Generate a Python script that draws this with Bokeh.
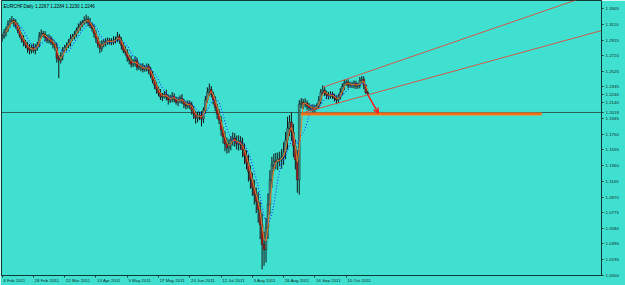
import numpy as np
import pandas as pd
from bokeh.plotting import figure
from bokeh.models import (Range1d, FixedTicker, NumeralTickFormatter, Label, Arrow,
                          OpenHead, ColumnDataSource)
from bokeh.embed import file_html
from bokeh.resources import INLINE

title_text = "EURCHF,Daily  1.2267 1.2284 1.2230 1.2246"

close = [
    1.2960, 1.3009, 1.3046, 1.3108, 1.3145, 1.3157, 1.3133, 1.3096, 1.3034, 1.2972,
    1.2923, 1.2886, 1.2849, 1.2812, 1.2787, 1.2824, 1.2787, 1.2824, 1.2861, 1.2960,
    1.2997, 1.2985, 1.2948, 1.2911, 1.2935, 1.2886, 1.2861, 1.2824, 1.2689, 1.2664,
    1.2713, 1.2787, 1.2824, 1.2849, 1.2886, 1.2935, 1.2960, 1.2985, 1.3034, 1.3071,
    1.3108, 1.3133, 1.3157, 1.3170, 1.3133, 1.3096, 1.3059, 1.2997, 1.2935, 1.2861,
    1.2812, 1.2861, 1.2898, 1.2886, 1.2911, 1.2898, 1.2886, 1.2911, 1.2923, 1.2960,
    1.2911, 1.2849, 1.2787, 1.2763, 1.2701, 1.2664, 1.2615, 1.2639, 1.2664, 1.2578,
    1.2590, 1.2578, 1.2553, 1.2565, 1.2590, 1.2541, 1.2479, 1.2417, 1.2356, 1.2306,
    1.2257, 1.2208, 1.2220, 1.2245, 1.2208, 1.2171, 1.2195, 1.2220, 1.2183, 1.2146,
    1.2171, 1.2195, 1.2158, 1.2121, 1.2097, 1.2134, 1.2109, 1.2047, 1.1998, 1.1949,
    1.1973, 1.1986, 1.1936, 1.2047, 1.2171, 1.2269, 1.2306, 1.2245, 1.2171, 1.2084,
    1.1998, 1.1924, 1.1801, 1.1714, 1.1628, 1.1579, 1.1628, 1.1677, 1.1702, 1.1653,
    1.1628, 1.1665, 1.1616, 1.1554, 1.1480, 1.1394, 1.1283, 1.1184, 1.1085, 1.0999,
    1.0913, 1.0814, 1.0629, 1.0382, 1.0321, 1.0592, 1.0876, 1.1184, 1.1369, 1.1418,
    1.1406, 1.1443, 1.1431, 1.1468, 1.1529, 1.1677, 1.1825, 1.1899, 1.1776, 1.1603,
    1.1431, 1.1184, 1.2121, 1.2146, 1.2121, 1.2134, 1.2097, 1.2072, 1.2084, 1.2060,
    1.2084, 1.2097, 1.2171, 1.2269, 1.2294, 1.2257, 1.2232, 1.2220, 1.2245, 1.2220,
    1.2195, 1.2171, 1.2208, 1.2269, 1.2343, 1.2380, 1.2393, 1.2356, 1.2368, 1.2356,
    1.2380, 1.2343, 1.2356, 1.2417, 1.2430, 1.2356, 1.2267, 1.2246,
]
first_open = 1.2935

up_wick_pips = [
    30, 40, 35, 50, 40, 55, 30, 40, 30, 40,
    35, 50, 30, 40, 55, 35, 50, 40, 30, 55,
    50, 30, 40, 35, 50, 30, 40, 35, 55, 40,
    50, 40, 30, 35, 40, 50, 30, 40, 35, 50,
    40, 30, 50, 61, 40, 55, 35, 50, 40, 30,
    40, 50, 30, 40, 35, 30, 40, 50, 35, 55,
    30, 40, 35, 50, 40, 30, 55, 40, 50, 35,
    40, 30, 50, 40, 35, 30, 40, 50, 35, 40,
    30, 50, 40, 35, 55, 30, 40, 50, 35, 30,
    40, 35, 50, 30, 40, 35, 30, 40, 50, 35,
    55, 40, 50, 35, 50, 60, 70, 40, 30, 50,
    40, 60, 50, 40, 70, 80, 60, 50, 70, 60,
    80, 70, 60, 90, 80, 70, 100, 80, 90, 100,
    90, 120, 100, 140, 160, 120, 140, 120, 100, 90,
    100, 80, 90, 100, 120, 100, 140, 87, 120, 100,
    80, 120, 50, 50, 40, 60, 35, 40, 30, 35,
    30, 35, 50, 40, 60, 35, 30, 40, 35, 30,
    30, 35, 40, 50, 35, 40, 30, 35, 30, 30,
    35, 30, 30, 40, 37, 35, 17, 17,
]
down_wick_pips = [
    40, 30, 50, 35, 40, 30, 50, 40, 35, 30,
    40, 50, 35, 55, 50, 40, 30, 50, 40, 35,
    30, 40, 50, 35, 40, 30, 50, 40, 55, 222,
    40, 50, 30, 40, 35, 50, 30, 40, 35, 30,
    40, 35, 30, 40, 50, 35, 40, 50, 55, 40,
    60, 40, 35, 50, 30, 40, 35, 30, 40, 35,
    40, 50, 35, 40, 55, 50, 40, 35, 50, 40,
    35, 50, 40, 30, 40, 50, 35, 40, 50, 55,
    40, 35, 50, 30, 40, 55, 35, 50, 40, 30,
    50, 40, 35, 50, 40, 30, 50, 55, 60, 70,
    55, 50, 90, 50, 40, 35, 50, 40, 55, 50,
    60, 50, 70, 80, 90, 70, 60, 80, 70, 60,
    70, 80, 60, 90, 100, 80, 120, 110, 100, 120,
    140, 160, 180, 308, 200, 160, 140, 120, 100, 80,
    90, 100, 80, 110, 100, 90, 120, 100, 110, 140,
    120, 160, 185, 50, 60, 40, 50, 35, 40, 50,
    40, 35, 30, 50, 40, 35, 50, 40, 30, 35,
    40, 50, 35, 30, 40, 50, 35, 40, 30, 35,
    40, 35, 30, 40, 35, 50, 16, 16,
]

date_tick_bars = [0, 16, 32, 48, 64, 80, 96, 112, 128, 144, 160, 176]
date_labels = ["4 Feb 2011", "28 Feb 2011", "22 Mar 2011", "13 Apr 2011", "5 May 2011",
               "27 May 2011", "20 Jun 2011", "12 Jul 2011", "3 Aug 2011", "26 Aug 2011",
               "16 Sep 2011", "10 Oct 2011"]
price_ticks = [1.3305, 1.3110, 1.2915, 1.2720, 1.2525, 1.2335, 1.2140, 1.1945, 1.1750,
               1.1555, 1.1360, 1.1165, 1.0970, 1.0775, 1.0580, 1.0390, 1.0195, 1.0000]

bid_price = 1.2246
hline_price = 1.2018
support_price = 1.2000
support_bars = [153, 276]
lower_trend = [(155, 1.2023), (245, 1.2622)]
upper_trend = [(164.2, 1.2331), (292.6, 1.3402)]
arrow_from = (187.2, 1.2232)
arrow_to = (192.4, 1.2010)

# ---------------------------------------------------------------
BG = "#40E0D0"
DARK = "#0f3b37"
FONT = "Liberation Sans"
FS = 4.4            # label font size, px
X0, X1 = -0.3, 306.6
PX_PER_BAR = 600 / (X1 - X0)

n = len(close)
idx = np.arange(n)
c = np.array(close)
o = np.concatenate([[first_open], c[:-1]])
top = np.maximum(o, c)
bot = np.minimum(o, c)
hi = top + np.array(up_wick_pips) / 10000.0
lo = bot - np.array(down_wick_pips) / 10000.0
colors = np.where(c >= o, "#4a8a84", "#b01818")

src = ColumnDataSource(dict(x=idx, top=top, bot=bot, hi=hi, lo=lo, col=colors))

ma_fast = pd.Series(c).rolling(3).mean()
ma_slow = pd.Series(c).rolling(7).mean()

# Liberation Sans advance widths (em): used to place each date label so that it
# starts at its tick, as MetaTrader draws them
_W = {" ": .278, "F": .611, "e": .556, "b": .556, "M": .833, "a": .556, "r": .333,
      "A": .667, "p": .556, "y": .5, "J": .5, "u": .556, "n": .556, "l": .222,
      "g": .556, "S": .667, "O": .778, "c": .5, "t": .278}
label_pos = []
for t, lab in zip(date_tick_bars, date_labels):
    w_px = sum(_W.get(ch, .556) for ch in lab) * FS
    label_pos.append(round(t + (w_px / 2 + 1) / PX_PER_BAR, 3))

p = figure(width=625, height=285, output_backend="svg", toolbar_location=None,
           x_range=Range1d(X0, X1), y_range=Range1d(1.0000, 1.3404),
           y_axis_location="right", min_border_left=1, min_border_top=0,
           min_border_right=24, min_border_bottom=9)
p.background_fill_color = BG
p.border_fill_color = BG
p.outline_line_color = DARK
p.outline_line_width = 1
p.grid.visible = False

# axes
p.yaxis.ticker = FixedTicker(ticks=sorted(price_ticks + [bid_price, hline_price]))
p.yaxis.formatter = NumeralTickFormatter(format="0.0000")
p.xaxis.ticker = FixedTicker(ticks=label_pos, minor_ticks=date_tick_bars)
p.xaxis.major_label_overrides = {pos: lab for pos, lab in zip(label_pos, date_labels)}
for ax in (p.xaxis, p.yaxis):
    ax.axis_line_color = DARK
    ax.major_tick_line_color = DARK
    ax.minor_tick_line_color = DARK
    ax.major_tick_in = 0
    ax.minor_tick_in = 0
    ax.major_label_text_font = FONT
    ax.major_label_text_font_size = f"{FS}px"
    ax.major_label_text_color = "#102a28"
p.yaxis.major_tick_out = 2
p.yaxis.minor_tick_out = 0
p.yaxis.major_label_standoff = 2
p.xaxis.major_tick_out = 0
p.xaxis.minor_tick_out = 2
p.xaxis.major_label_standoff = 0
p.xaxis.major_label_text_line_height = 0.9

# horizontal line
p.line([X0, X1], [hline_price, hline_price], color="#2c5e59", line_width=1)

# candles
p.segment(x0="x", y0="lo", x1="x", y1="hi", source=src, color="#141414", line_width=1)
p.vbar(x="x", width=0.95, top="top", bottom="bot", source=src, fill_color="col",
       line_color="#141414", line_width=0.4)

# moving averages
p.line(idx, ma_slow, color="#1f3fff", line_width=1.2, line_dash="1 2")
p.line(idx, ma_fast, color="#e27a2a", line_width=1)

# support level
p.line(support_bars, [support_price, support_price], color="#ff8a1c", line_width=3)
p.line(support_bars, [support_price, support_price], color="#e8401a", line_width=0.8)

# trend lines extended to the right edge
for (x0, y0), (x1, y1) in (lower_trend, upper_trend):
    slope = (y1 - y0) / (x1 - x0)
    xe = 320
    p.line([x0, xe], [y0, y0 + slope * (xe - x0)], color="#e04a3a", line_width=0.9)

p.add_layout(Arrow(end=OpenHead(size=5, line_color="#ff1a1a", line_width=1.5),
                   x_start=arrow_from[0], y_start=arrow_from[1],
                   x_end=arrow_to[0], y_end=arrow_to[1],
                   line_color="#ff1a1a", line_width=1.5))

p.add_layout(Label(x=2, y=269, x_units="screen", y_units="screen", text=title_text,
                   text_font=FONT, text_font_size="4.6px",
                   text_color="#000000", text_baseline="middle"))

open("out.html", "w").write(file_html(p, INLINE))
